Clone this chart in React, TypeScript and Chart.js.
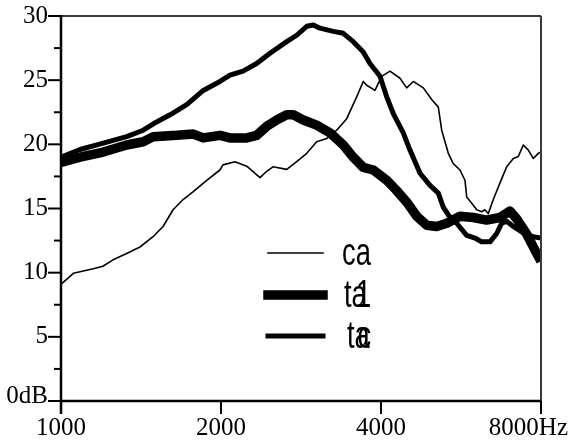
import React, { useEffect, useRef } from 'react';
import { Chart, registerables } from 'chart.js';

Chart.register(...registerables);

// Spectra, frequency in Hz and level in dB
const caFreq = [1000, 1007, 1055, 1150, 1199, 1253, 1329, 1408, 1490, 1556, 1625, 1697, 1771, 1880, 1991, 2017, 2125, 2236, 2368, 2438, 2505, 2659, 2776, 2900, 3027, 3162, 3301, 3448, 3600, 3704, 3760, 3897, 4011, 4159, 4343, 4471, 4601, 4805, 4982, 5127, 5203, 5354, 5471, 5632, 5755, 5798, 5926, 6055, 6186, 6276, 6366, 6506, 6698, 6895, 7096, 7251, 7409, 7573, 7737, 7907, 8000];
const caDb = [9.1, 9.2, 9.95, 10.3, 10.5, 11.0, 11.5, 12.0, 12.8, 13.6, 14.9, 15.7, 16.3, 17.2, 18.0, 18.4, 18.65, 18.3, 17.4, 17.9, 18.25, 18.05, 18.65, 19.3, 20.2, 20.45, 21.1, 22.0, 23.7, 24.9, 24.6, 24.2, 25.3, 25.7, 25.15, 24.4, 24.9, 24.4, 23.5, 22.9, 21.1, 19.3, 18.5, 18.0, 17.2, 15.9, 15.4, 14.9, 14.75, 14.9, 14.6, 15.7, 17.0, 18.25, 18.9, 19.05, 19.95, 19.55, 18.9, 19.3, 19.4];

const ta1Freq = [1000, 1086, 1201, 1329, 1428, 1492, 1651, 1774, 1852, 1991, 2079, 2236, 2334, 2438, 2546, 2659, 2736, 2856, 3027, 3207, 3397, 3547, 3704, 3869, 4100, 4281, 4471, 4670, 4877, 5091, 5318, 5632, 5967, 6322, 6698, 6994, 7200, 7520, 7851, 8000];
const ta1Db = [18.6, 19.0, 19.4, 19.95, 20.2, 20.6, 20.7, 20.8, 20.5, 20.7, 20.5, 20.5, 20.7, 21.4, 21.9, 22.3, 22.3, 21.9, 21.5, 20.9, 19.95, 19.0, 18.2, 18.0, 17.2, 16.4, 15.5, 14.4, 13.7, 13.6, 13.85, 14.4, 14.3, 14.1, 14.3, 14.8, 14.2, 13.0, 11.5, 10.9];

const tacFreq = [1000, 1086, 1201, 1329, 1428, 1492, 1604, 1724, 1852, 1991, 2079, 2200, 2334, 2473, 2659, 2776, 2900, 2983, 3071, 3253, 3397, 3547, 3704, 3813, 3983, 4100, 4219, 4405, 4535, 4737, 4946, 5127, 5239, 5354, 5552, 5798, 6011, 6186, 6414, 6603, 6746, 6895, 7096, 7409, 7737, 8000];
const tacDb = [19.0, 19.6, 20.1, 20.6, 21.1, 21.6, 22.3, 23.1, 24.2, 24.9, 25.4, 25.7, 26.3, 27.1, 28.0, 28.5, 29.2, 29.3, 29.05, 28.8, 28.65, 28.0, 27.2, 26.3, 25.3, 23.7, 22.4, 20.9, 19.55, 17.75, 16.8, 16.2, 15.1, 14.5, 13.85, 12.9, 12.7, 12.4, 12.4, 13.05, 13.85, 14.0, 13.6, 13.1, 12.8, 12.7];

const seriesNames = ['ca', 'ta1', 'tac'];
const seriesWidths = [1.6, 9.5, 5];

const xTickValues = [1000, 2000, 4000, 8000];
const xTickLabels = ['1000', '2000', '4000', '8000Hz'];
const yTickValues = [0, 5, 10, 15, 20, 25, 30];
const yTickLabels = ['0dB', '5', '10', '15', '20', '25', '30'];
const yMinorStep = 2.5;

const toPoints = (f: number[], d: number[]) => f.map((x, i) => ({ x, y: d[i] }));

const axesAndKey = {
  id: 'axesAndKey',
  afterDatasetsDraw(chart: any) {
    const { ctx, chartArea: a, scales } = chart;
    const xs = scales.x;
    const ys = scales.y;
    ctx.save();

    // frame
    ctx.lineCap = 'butt';
    ctx.strokeStyle = '#3a3a3a';
    ctx.lineWidth = 2;
    ctx.beginPath();
    ctx.moveTo(a.left, a.top);
    ctx.lineTo(a.right, a.top);
    ctx.moveTo(a.right, a.top);
    ctx.lineTo(a.right, a.bottom + 13);
    ctx.stroke();

    ctx.strokeStyle = '#000';
    ctx.lineWidth = 2.5;
    ctx.beginPath();
    ctx.moveTo(a.left, a.top - 1);
    ctx.lineTo(a.left, a.bottom + 13);
    ctx.moveTo(a.left, a.bottom);
    ctx.lineTo(a.right, a.bottom);
    ctx.stroke();

    // y ticks, major and minor
    ctx.lineWidth = 2;
    const yMax = yTickValues[yTickValues.length - 1];
    for (let v = 0; v <= yMax + 1e-6; v += yMinorStep) {
      const py = ys.getPixelForValue(v);
      const major = Math.abs(v % 5) < 1e-6;
      ctx.beginPath();
      ctx.moveTo(a.left - (major ? 13 : 7), py);
      ctx.lineTo(a.left, py);
      ctx.stroke();
    }
    // x ticks
    xTickValues.forEach((v) => {
      const px = xs.getPixelForValue(v);
      ctx.beginPath();
      ctx.moveTo(px, a.bottom);
      ctx.lineTo(px, a.bottom + 13);
      ctx.stroke();
    });

    // tick labels
    ctx.fillStyle = '#000';
    ctx.font = '25px "Liberation Serif", "Times New Roman", serif';
    ctx.textAlign = 'right';
    ctx.textBaseline = 'middle';
    yTickValues.forEach((v, i) => {
      const py = ys.getPixelForValue(v) - (v === 0 ? 5 : 0);
      ctx.fillText(yTickLabels[i], a.left - 13, py);
    });
    xTickValues.forEach((v, i) => {
      const px = xs.getPixelForValue(v);
      const last = i === xTickValues.length - 1;
      ctx.textAlign = last ? 'right' : 'center';
      ctx.fillText(xTickLabels[i], last ? chart.width - 1 : px, a.bottom + 27);
    });

    // key
    const rows = [253, 295, 336];
    const textX = [342, 344, 347];
    chart.data.datasets.forEach((ds: any, i: number) => {
      ctx.strokeStyle = '#000';
      ctx.lineWidth = ds.borderWidth;
      ctx.lineCap = 'square';
      ctx.beginPath();
      ctx.moveTo(268, rows[i]);
      ctx.lineTo(323, rows[i]);
      ctx.stroke();

      const name: string = ds.label;
      ctx.save();
      ctx.translate(textX[i], rows[i] + 12);
      ctx.scale(0.72, 1);
      ctx.font = '38px "Liberation Sans", Arial, sans-serif';
      ctx.textAlign = 'left';
      ctx.textBaseline = 'alphabetic';
      ctx.fillText(name.slice(0, 2), 0, 0);
      if (name.length > 2) {
        // third character is struck over the second one
        const off = ctx.measureText(name[0]).width + (name[2] === '1' ? 6 : 4);
        ctx.fillText(name.slice(2), off, 0);
      }
      ctx.restore();
    });

    ctx.restore();
  },
};

export default function App() {
  const ref = useRef<HTMLCanvasElement | null>(null);

  useEffect(() => {
    if (!ref.current) return;
    const chart = new Chart(ref.current, {
      type: 'line',
      data: {
        datasets: [
          { label: seriesNames[0], data: toPoints(caFreq, caDb), borderWidth: seriesWidths[0] },
          { label: seriesNames[1], data: toPoints(ta1Freq, ta1Db), borderWidth: seriesWidths[1] },
          { label: seriesNames[2], data: toPoints(tacFreq, tacDb), borderWidth: seriesWidths[2] },
        ].map((d) => ({
          ...d,
          borderColor: '#000',
          backgroundColor: '#000',
          pointRadius: 0,
          tension: 0,
          fill: false,
          borderJoinStyle: 'round' as const,
          borderCapStyle: 'butt' as const,
        })),
      },
      options: {
        animation: false,
        responsive: false,
        devicePixelRatio: 1,
        layout: { padding: { left: 61, top: 16, right: 28, bottom: 47 } },
        plugins: { legend: { display: false }, tooltip: { enabled: false } },
        scales: {
          x: { type: 'logarithmic', min: 1000, max: 8000, display: false },
          y: { type: 'linear', min: 0, max: 30, display: false },
        },
      },
      plugins: [axesAndKey],
    });
    return () => chart.destroy();
  }, []);

  return (
    <div style={{ position: 'fixed', left: 0, top: 0, width: 569, height: 448, background: '#fff' }}>
      <canvas ref={ref} width={569} height={448} style={{ width: 569, height: 448, display: 'block' }} />
    </div>
  );
}
